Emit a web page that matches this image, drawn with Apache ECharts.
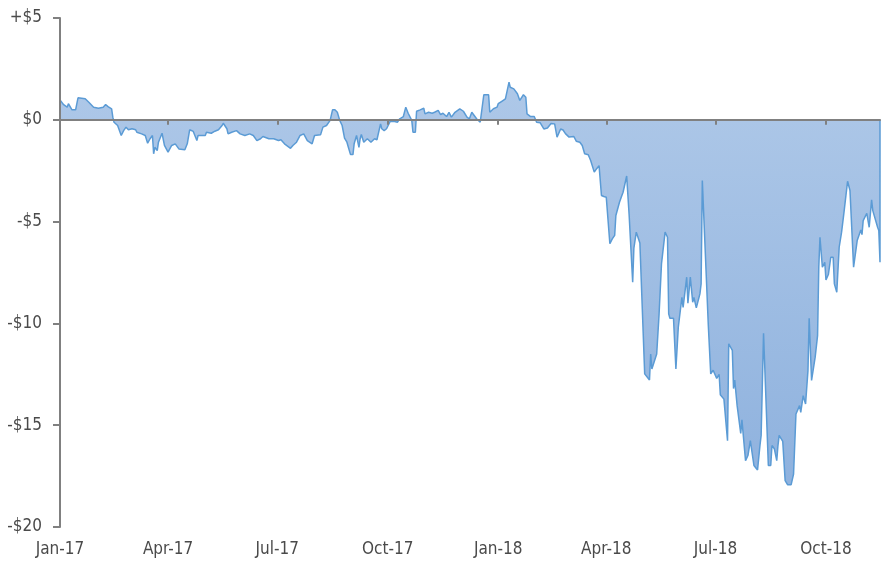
<!DOCTYPE html>
<html>
<head>
<meta charset="utf-8">
<script src="https://cdn.jsdelivr.net/npm/echarts@6/dist/echarts.min.js"></script>
<style>
html,body{margin:0;padding:0;background:#fff;}
#chart{width:887px;height:573px;}
</style>
</head>
<body>
<div id="chart"></div>
<script>
// Day offsets since 2017-01-01
const days = [0,3,6,7,10,13,15,21,24,28,32,36,38,40,43,44,45,48,51,53,55,57,60,63,64,68,71,73,75,77,78,79,81,82,85,87,90,93,96,99,104,106,108,111,114,115,121,
122,126,129,132,135,136,139,140,143,147,150,154,158,161,164,167,169,174,178,182,184,187,192,194,197,200,203,206,210,212,217,219,222,225,227,229,231,233,235,237,
239,240,242,244,245,247,249,250,251,253,256,259,262,264,267,268,270,272,275,278,281,283,286,288,290,293,294,296,297,300,303,304,307,310,312,315,317,319,322,324,326,329,333,336,339,341,343,345,347,350,
353,357,358,361,364,365,368,371,374,375,378,381,383,386,388,389,392,395,397,400,403,406,409,412,414,417,419,421,422,424,428,430,433,435,436,437,440,442,443,445,447,449,
451,453,455,458,460,462,463,464,466,468,469,472,474,477,478,480,483,487,491,492,493,497,499,501,504,506,507,508,511,513,515,518,519,522,523,525,527,528,530,533,534,535,
540,542,544,547,549,550,553,556,557,560,561,562,564,567,568,571,573,575,578,581,583,584,586,590,592,593,595,597,598,599,602,604,606,609,611,613,616,617,619,621,623,624,626,629,631,632,633,635,637,638,640,642,644,645,647,649,651,653,656,658,661,664,667,668,669,672,674,676,677,681,682,683,683];
// Profit / loss in dollars
const values = [0.98,0.74,0.62,0.79,0.49,0.49,1.08,1.03,0.86,0.62,0.57,0.62,0.75,0.65,0.54,0.13,-0.12,-0.28,-0.77,-0.53,-0.36,-0.49,-0.44,-0.49,-0.61,-0.69,-0.77,-1.15,-0.93,-0.77,-1.67,-1.35,-1.51,-1.10,-0.66,-1.26,-1.59,-1.26,-1.18,-1.43,-1.47,-1.18,-0.49,-0.57,-1.02,-0.77,-0.77,
-0.61,-0.66,-0.56,-0.49,-0.28,-0.17,-0.44,-0.69,-0.61,-0.53,-0.69,-0.77,-0.69,-0.77,-1.02,-0.93,-0.82,-0.93,-0.93,-1.02,-0.98,-1.18,-1.40,-1.26,-1.10,-0.77,-0.69,-1.02,-1.18,-0.77,-0.74,-0.36,-0.28,-0.03,0.49,0.49,0.37,-0.03,-0.28,-0.90,
-1.10,-1.31,-1.71,-1.71,-1.18,-0.77,-1.35,-0.93,-0.72,-1.10,-0.93,-1.10,-0.93,-0.98,-0.20,-0.44,-0.53,-0.44,-0.08,-0.07,-0.12,0.05,0.16,0.62,0.32,-0.03,-0.61,-0.61,0.42,0.49,0.57,0.29,0.37,0.32,0.37,0.46,0.26,0.32,0.16,0.37,0.13,0.37,0.54,0.42,0.13,0.05,0.37,0.21,0.05,-0.12,
1.23,1.23,0.37,0.54,0.62,0.79,0.91,1.03,1.85,1.60,1.52,1.28,0.95,1.23,1.11,0.29,0.16,0.16,-0.12,-0.15,-0.45,-0.40,-0.18,-0.20,-0.85,-0.45,-0.50,-0.68,-0.61,-0.85,-0.82,-1.05,-1.10,-1.26,-1.35,-1.67,-1.72,-2.00,-2.03,-2.57,-2.40,-2.25,
-3.72,-3.77,-3.80,-6.09,-5.85,-5.68,-4.70,-4.75,-4.05,-3.72,-3.56,-2.76,-4.62,-7.98,-6.30,-5.52,-6.05,-12.48,-12.78,-11.50,-12.24,-11.50,-9.53,-7.08,-5.52,-5.77,-9.53,-9.75,-9.75,-12.24,-10.19,-8.72,-9.21,-7.73,-9.01,-7.73,-8.96,-8.72,-9.24,-8.55,-8.06,-2.98,
-10.10,-12.48,-12.30,-12.70,-12.50,-13.50,-13.72,-15.76,-11.00,-11.33,-13.20,-12.78,-14.04,-15.40,-14.74,-16.74,-16.49,-15.76,-16.98,-17.20,-16.00,-15.50,-10.48,-16.98,-16.98,-16.00,-16.16,-16.74,-16.00,-15.50,-15.80,-17.72,-17.92,-17.92,-17.40,-14.45,-14.04,-14.37,-13.55,-13.96,-12.32,-9.75,-12.80,-11.66,-10.60,-7.24,-5.77,-7.24,-7.00,-7.86,-7.60,-6.75,-6.75,-8.06,-8.47,-6.26,-5.52,-4.55,-3.02,-3.47,-7.24,-5.93,-5.41,-5.64,-4.95,-4.59,-5.28,-3.93,-4.46,-5.28,-5.44,-7.00,0];
// Quarter tick positions (days since 2017-01-01) and labels
const tickDays = [0,90,181,273,365,455,546,638];
const tickLabels = ['Jan-17','Apr-17','Jul-17','Oct-17','Jan-18','Apr-18','Jul-18','Oct-18'];
const yLabels = {'-20':'-$20','-15':'-$15','-10':'-$10','-5':'-$5','0':'$0','5':'+$5'};

const FONT = '"Liberation Sans Narrow","DejaVu Sans Condensed",sans-serif';
const TXT = '#4a4a4a';
const AX = '#808080';
const chart = echarts.init(document.getElementById('chart'));
chart.setOption({
  animation:false,
  grid:{left:60,right:7,top:18,bottom:46,containLabel:false},
  xAxis:[
    {type:'value',min:0,max:683,position:'bottom',
     axisLine:{show:false,onZero:false},axisTick:{show:false},splitLine:{show:false},
     axisLabel:{show:true,customValues:tickDays,margin:14,color:TXT,fontFamily:FONT,fontSize:17,
       formatter:function(v){const i=tickDays.indexOf(v);return i>=0?tickLabels[i]:'';}}},
    {type:'value',min:0,max:683,position:'top',z:10,
     axisLine:{show:true,onZero:true,lineStyle:{color:AX,width:2}},
     axisTick:{show:true,inside:true,length:5,customValues:tickDays,lineStyle:{color:AX,width:2}},
     axisLabel:{show:false},splitLine:{show:false}}
  ],
  yAxis:{type:'value',min:-20,max:5,interval:5,z:10,
    axisLine:{show:true,lineStyle:{color:AX,width:2}},
    axisTick:{show:true,length:7,lineStyle:{color:AX,width:2}},
    splitLine:{show:false},
    axisLabel:{margin:18,color:TXT,fontFamily:FONT,fontSize:17,
      formatter:function(v){return yLabels[String(v)];}}},
  series:[{
    type:'line',xAxisIndex:0,
    data:days.map((d,i)=>[d,values[i]]),
    symbol:'none',
    lineStyle:{color:'#5b9bd5',width:1.5},
    areaStyle:{opacity:1,color:new echarts.graphic.LinearGradient(0,0,0,1,[{offset:0,color:'#aec8e8'},{offset:1,color:'#8fb2de'}])}
  }]
});
</script>
</body>
</html>
